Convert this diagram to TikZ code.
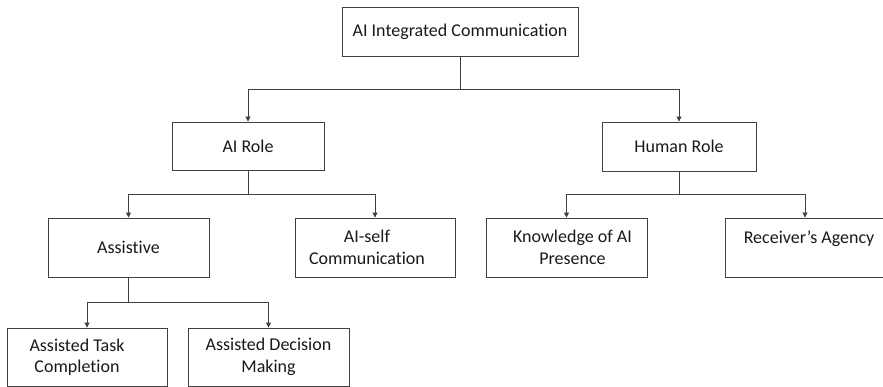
\documentclass[tikz,border=0pt]{standalone}
\usepackage{fontspec}
\setmainfont{Carlito}[Ligatures=NoCommon]
\usetikzlibrary{arrows.meta}
\begin{document}
\begin{tikzpicture}[x=1pt,y=-1pt,
  box/.style={draw=black!75, line width=0.9pt, rectangle, align=center, inner sep=0pt,
              font=\fontsize{18}{21.5}\selectfont, text=black!90},
  ln/.style={draw=black!75, line width=0.9pt},
  arr/.style={ln, -{Triangle[length=5pt,width=5pt]}}]
\useasboundingbox (0,0) rectangle (883,387);
% nodes
\node[box, minimum width=236pt, minimum height=49pt] (top) at (460,31.5) {AI Integrated Communication};
\node[box, minimum width=152pt, minimum height=48pt] (airole) at (248,146) {AI Role};
\node[box, minimum width=154pt, minimum height=49pt] (human) at (679,146.5) {Human Role};
\node[box, minimum width=161pt, minimum height=59pt] (assistive) at (128.5,247.5) {Assistive};
\node[box, minimum width=160pt, minimum height=59pt] (aiself) at (375,247.5) {AI-self\hspace*{16pt}\\Communication\hspace*{16pt}};
\node[box, minimum width=161pt, minimum height=59pt] (know) at (566.5,247.5) {\hspace*{12pt}Knowledge of AI\\\hspace*{12pt}Presence};
\node[box, minimum width=160pt, minimum height=59pt] (recv) at (805,247.5) {\hspace*{8pt}Receiver's Agency\\\mbox{}};
\node[box, minimum width=160pt, minimum height=58pt] (task) at (87,357) {Assisted Task\hspace*{20pt}\\Completion\hspace*{20pt}};
\node[box, minimum width=161pt, minimum height=58pt] (decision) at (268.5,357) {Assisted Decision\\Making};
% bar levels
\coordinate (b1) at (0,89.5);
\coordinate (b2) at (0,194);
\coordinate (b3) at (0,302);
% connectors
\draw[ln] (top.south) -- (top.south |- b1);
\draw[arr] (top.south |- b1) -| (airole.north);
\draw[arr] (top.south |- b1) -| (human.north);
\draw[ln] (airole.south) -- (airole.south |- b2);
\draw[arr] (airole.south |- b2) -| (assistive.north);
\draw[arr] (airole.south |- b2) -| (aiself.north);
\draw[ln] (human.south) -- (human.south |- b2);
\draw[arr] (human.south |- b2) -| (know.north);
\draw[arr] (human.south |- b2) -| (recv.north);
\draw[ln] (assistive.south) -- (assistive.south |- b3);
\draw[arr] (assistive.south |- b3) -| (task.north);
\draw[arr] (assistive.south |- b3) -| (decision.north);
\end{tikzpicture}
\end{document}
